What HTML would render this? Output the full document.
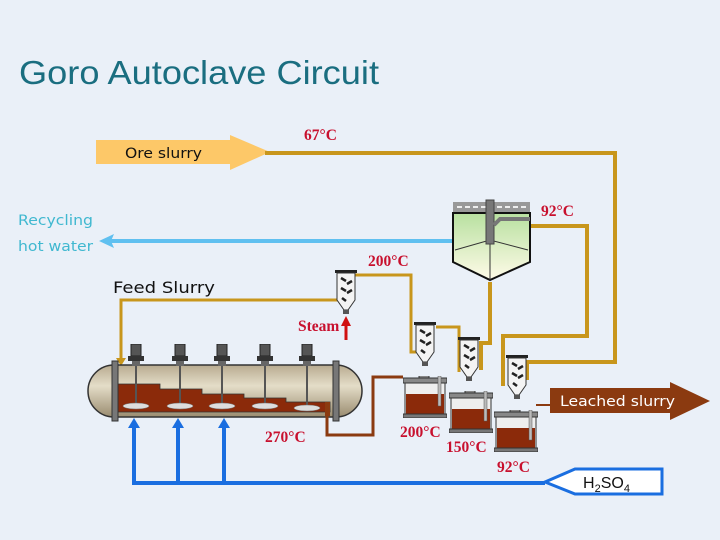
<!DOCTYPE html>
<html><head><meta charset="utf-8"><style>
html,body{margin:0;padding:0;background:#eaf0f8;}
svg{display:block;}
.t{font-family:"Liberation Serif",serif;font-weight:bold;fill:#c8102e;font-size:15.5px;}
.s{font-family:"DejaVu Sans","Liberation Sans",sans-serif;}
</style></head><body>
<svg width="720" height="540" viewBox="0 0 720 540" xmlns="http://www.w3.org/2000/svg">
<defs>
<symbol id="sep" viewBox="0 0 22 46">
 <rect x="0" y="0" width="22" height="3" fill="#222"/>
 <path d="M2 3 H20 V30 L13 40 H9 L2 30 Z" fill="#f4f4f4" stroke="#333" stroke-width="1"/>
 <path d="M6 8 l5 3 M12 14 l5 -3 M6 18 l5 3 M12 23 l5 -3 M7 28 l4 3" stroke="#222" stroke-width="2.5"/>
 <rect x="8" y="40" width="6" height="4" fill="#555"/>
</symbol>
<symbol id="tank" viewBox="0 0 44 42">
 <rect x="0" y="2" width="44" height="5" fill="#888" stroke="#333"/>
 <rect x="2" y="7" width="40" height="32" fill="#eee" stroke="#333"/>
 <rect x="3" y="18" width="38" height="20" fill="#8b2a0a"/>
 <rect x="0" y="38" width="44" height="4" fill="#777" stroke="#333"/>
 <rect x="35" y="0" width="3" height="30" fill="#bbb" stroke="#555" stroke-width=".5"/>
 <rect x="16" y="-3" width="10" height="5" fill="#888" stroke="#333"/>
</symbol>
<symbol id="mot" viewBox="0 0 20 22">
 <rect x="5" y="0" width="10" height="12" fill="#555" stroke="#222"/>
 <rect x="2" y="12" width="16" height="5" fill="#333"/>
 <rect x="6" y="17" width="8" height="5" fill="#666"/>
</symbol>
<linearGradient id="ac" x1="0" y1="0" x2="0" y2="1"><stop offset="0" stop-color="#b8ab90"/><stop offset=".4" stop-color="#e4ddc8"/><stop offset="1" stop-color="#9a8c70"/></linearGradient>
<linearGradient id="gr" x1="0" y1="0" x2="0" y2="1"><stop offset="0" stop-color="#b8e0a0"/><stop offset="1" stop-color="#fffbe8"/></linearGradient>
</defs>

<text x="19" y="84" font-size="33" fill="#1a6e80" style="font-family:'Liberation Sans',sans-serif" textLength="360" lengthAdjust="spacingAndGlyphs">Goro Autoclave Circuit</text>

<path d="M96 140 H230 V135 L270 152 L230 170 V164 H96 Z" fill="#fdc868"/>
<text x="125" y="158" class="s" font-size="14" fill="#111" textLength="77" lengthAdjust="spacingAndGlyphs">Ore slurry</text>
<text x="304" y="140" class="t">67°C</text>
<g fill="none" stroke="#c8961c" stroke-width="4">
 <path d="M265 153 H615 V362 H527 V380"/>
 <path d="M530 226 H587 V336 H503 V386" />
 <path d="M490 282 V343 H481 V370"/>
 <path d="M355 275 H411 V352 H416" stroke-width="3"/>
 <path d="M436 327 H459 V372" stroke-width="3"/>
 <path d="M340 300 H121 V360" stroke-width="3"/>
</g>
<path d="M116 358 L121 366 L126 358 Z" fill="#c8961c"/>

<text x="18" y="225" class="s" font-size="14.5" fill="#40b8d0" textLength="75" lengthAdjust="spacingAndGlyphs">Recycling</text>
<text x="18" y="251" class="s" font-size="14.5" fill="#40b8d0" textLength="75" lengthAdjust="spacingAndGlyphs">hot water</text>
<path d="M110 241 H455" stroke="#60c0f0" stroke-width="4"/>
<path d="M99 241 L114 234 L111 241 L114 248 Z" fill="#60c0f0"/>

<rect x="453" y="202" width="77" height="11" fill="#999"/>
<path d="M457 207 h70" stroke="#eee" stroke-width="2" stroke-dasharray="5 3"/>
<path d="M453 213 H530 V262 L490 280 L453 262 Z" fill="url(#gr)" stroke="#111" stroke-width="2"/>
<path d="M455 250 L490 240 L528 250 M490 240 V280" stroke="#333" stroke-width="1" fill="none"/>
<rect x="486" y="200" width="8" height="44" fill="#777" stroke="#444"/>
<path d="M494 225 L500 219 H530" stroke="#777" stroke-width="4" fill="none"/>
<text x="541" y="216" class="t">92°C</text>

<text x="113" y="293" class="s" font-size="16" fill="#111" textLength="102" lengthAdjust="spacingAndGlyphs">Feed Slurry</text>
<text x="368" y="266" class="t">200°C</text>
<use href="#sep" x="335" y="270" width="22" height="46"/>
<text x="298" y="331" class="t">Steam</text>
<path d="M346 340 V324" stroke="#d01010" stroke-width="3"/>
<path d="M341 326 L346 316 L351 326 Z" fill="#d01010"/>

<rect x="88" y="365" width="274" height="52" rx="26" fill="url(#ac)" stroke="#333" stroke-width="1.5"/>
<path d="M118 384 H160 V389 H202 V394 H244 V398 H286 V402 H330 V412 H118 Z" fill="#8b2a0a" stroke="#333" stroke-width=".8"/>
<rect x="112" y="361" width="6" height="60" fill="#777" stroke="#333"/>
<rect x="333" y="361" width="6" height="60" fill="#777" stroke="#333"/>
<g fill="#555">
 <rect x="135" y="365" width="2" height="40"/><rect x="179" y="365" width="2" height="40"/><rect x="221" y="365" width="2" height="40"/><rect x="264" y="365" width="2" height="40"/><rect x="306" y="365" width="2" height="40"/>
</g>
<g fill="#ddd" stroke="#777" stroke-width=".5">
 <ellipse cx="136" cy="406" rx="13" ry="3"/><ellipse cx="180" cy="406" rx="13" ry="3"/><ellipse cx="222" cy="406" rx="13" ry="3"/><ellipse cx="265" cy="406" rx="13" ry="3"/><ellipse cx="307" cy="408" rx="13" ry="3"/>
</g>
<use href="#mot" x="126" y="344" width="20" height="22"/>
<use href="#mot" x="170" y="344" width="20" height="22"/>
<use href="#mot" x="212" y="344" width="20" height="22"/>
<use href="#mot" x="255" y="344" width="20" height="22"/>
<use href="#mot" x="297" y="344" width="20" height="22"/>
<text x="265" y="442" class="t">270°C</text>
<path d="M327 405 V435 H373 V377 H403" stroke="#8b3a10" stroke-width="3" fill="none"/>
<rect x="325" y="402" width="5" height="14" fill="#8b3a10"/>

<use href="#sep" x="414" y="322" width="22" height="46"/>
<use href="#tank" x="403" y="376" width="44" height="42"/>
<use href="#sep" x="458" y="337" width="22" height="46"/>
<use href="#tank" x="449" y="391" width="44" height="42"/>
<use href="#sep" x="506" y="355" width="22" height="46"/>
<use href="#tank" x="494" y="410" width="44" height="42"/>
<text x="400" y="437" class="t">200°C</text>
<text x="446" y="452" class="t">150°C</text>
<text x="497" y="472" class="t">92°C</text>

<path d="M536 405 H552" stroke="#8b3a10" stroke-width="2"/>
<path d="M550 388 H670 V382 L710 401 L670 420 V413 H550 Z" fill="#8b3a10"/>
<text x="560" y="406" class="s" font-size="14.5" fill="#fff" textLength="115" lengthAdjust="spacingAndGlyphs">Leached slurry</text>

<g stroke="#1a6ee0" stroke-width="4" fill="none">
 <path d="M134 483 H545"/>
 <path d="M134 485 V425 M178 485 V425 M224 485 V425"/>
</g>
<path d="M128 428 L134 418 L140 428 Z M172 428 L178 418 L184 428 Z M218 428 L224 418 L230 428 Z" fill="#1a6ee0"/>
<path d="M545 482 L575 469 H662 V494 H575 Z" fill="#fff" stroke="#1a6ee0" stroke-width="3"/>
<text x="583" y="488" font-family="Liberation Sans,sans-serif" font-size="16" fill="#111">H<tspan font-size="11" dy="4">2</tspan><tspan dy="-4">SO</tspan><tspan font-size="11" dy="4">4</tspan></text>
</svg>
</body></html>
